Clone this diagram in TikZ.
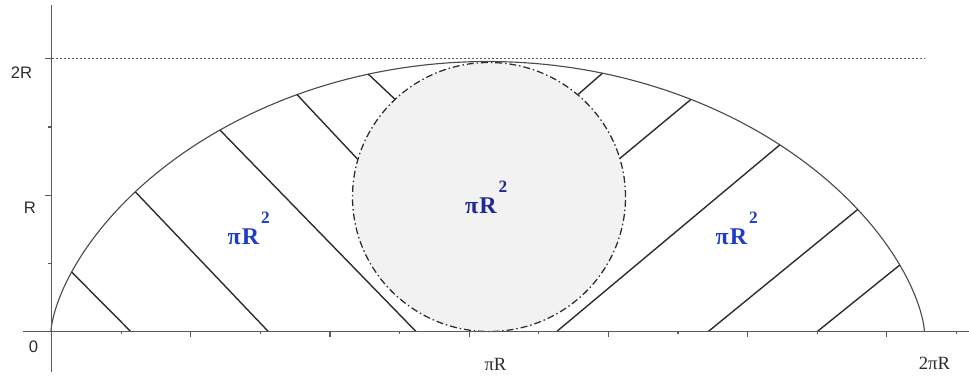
\documentclass[tikz,border=0pt]{standalone}
\usepackage{fontspec}
\setmainfont{Liberation Serif}
\newfontfamily\axsans{Liberation Sans}
\definecolor{labblue}{RGB}{30,60,200}
\definecolor{labnavy}{RGB}{30,40,150}
\definecolor{circfill}{RGB}{242,242,242}
\definecolor{inkgray}{RGB}{45,45,45}
\definecolor{axgray}{RGB}{90,90,90}
\tikzset{
  axisline/.style={draw=axgray, line width=1.2pt},
  tickline/.style={draw=axgray, line width=0.9pt},
  cycline/.style={draw=inkgray!85!white, line width=0.85pt},
  hatch/.style={draw=inkgray, line width=1.05pt},
  guide/.style={draw=axgray, line width=0.7pt, dash pattern=on 1.5pt off 1.5pt},
  rimline/.style={draw=inkgray, line width=0.95pt, dash pattern=on 5.2pt off 2.2pt on 1.1pt off 2.2pt},
  axlab/.style={font=\axsans\fontsize{12.5}{14}\selectfont, text=inkgray, inner sep=0pt},
  axser/.style={font=\fontsize{14}{16}\selectfont, text=inkgray, inner sep=0pt},
  arealab/.style={font=\bfseries\fontsize{18}{20}\selectfont, inner sep=0pt},
  areasup/.style={font=\bfseries\fontsize{13}{15}\selectfont, inner sep=0pt, anchor=south west}
}
\begin{document}
\begin{tikzpicture}[x=0.75pt, y=-0.75pt]
\useasboundingbox (0,0) rectangle (969,375);
% guide line at 2R
\coordinate (gA) at (51.5,58.5);
\coordinate (gB) at (925,58.5);
\draw[guide] (gA) -- (gB);
% cycloid
\draw[cycline] plot[domain=0:360, samples=181, variable=\t]
  ({51+139*(rad(\t)-sin(\t))},{331.5-135*(1-cos(\t))});
% points on the cycloid
\foreach \n/\t in {1/56,2/92,3/119.5,4/139,5/155,6/204,7/224,8/247.5,9/275.5,10/300.5}
  \coordinate (c\n) at ({51+139*(rad(\t)-sin(\t))},{331.5-135*(1-cos(\t))});
% inner ends
\coordinate (e1) at (130.7,331.5);
\coordinate (e2) at (268.3,331.5);
\coordinate (e3) at (416,331.5);
\coordinate (e4) at (357.7,159.3);
\coordinate (e5) at (395,99.3);
\coordinate (e6) at (578.3,94.3);
\coordinate (e7) at (620,158.3);
\coordinate (e8) at (556.7,331.5);
\coordinate (e9) at (708.3,331.5);
\coordinate (e10) at (817.3,331.5);
\foreach \n in {1,...,10} \draw[hatch] (c\n) -- (e\n);
% rolling circle
\coordinate (cc) at (489,197);
\fill[circfill] (cc) ellipse [x radius=102.375pt, y radius=100.875pt];
\draw[rimline] (cc) ellipse [x radius=102.375pt, y radius=100.875pt];
% axes
\coordinate (xA) at (23,331.5);
\coordinate (xB) at (969,331.5);
\coordinate (yA) at (51.5,5);
\coordinate (yB) at (51.5,372);
\draw[axisline] (xA) -- (xB);
\draw[axisline] (yA) -- (yB);
% ticks
\foreach \k in {1,...,13} {
  \pgfmathsetmacro\tx{51.5+69.6*\k}
  \pgfmathsetmacro\tl{isodd(\k) ? 2.5 : 5.5}
  \draw[tickline] (\tx,331.5) -- (\tx,331.5+\tl);
}
\foreach \k in {1,...,4} {
  \pgfmathsetmacro\ty{331.5-68.2*\k}
  \pgfmathsetmacro\tl{isodd(\k) ? 3.5 : 6.5}
  \draw[tickline] (51.5,\ty) -- (51.5-\tl,\ty);
}
% axis labels
\node[axlab] (l2R) at (21.5,73) {2R};
\node[axlab] (lR) at (30,207.5) {R};
\node[axlab] (l0) at (33.5,346.5) {0};
\node[axser] (lpiR) at (495.5,364) {πR};
\node[axser] (l2piR) at (934.5,363) {2πR};
% area labels
\node[arealab, text=labblue] (aL) at (243.5,237) {π\kern0.8ptR};
\node[areasup, text=labblue] (sL) at ([xshift=1pt,yshift=4pt]aL.north east) {2};
\node[arealab, text=labnavy] (aM) at (481,206) {π\kern0.8ptR};
\node[areasup, text=labnavy] (sM) at ([xshift=1pt,yshift=4pt]aM.north east) {2};
\node[arealab, text=labblue] (aR) at (731.5,237) {π\kern0.8ptR};
\node[areasup, text=labblue] (sR) at ([xshift=1pt,yshift=4pt]aR.north east) {2};
\end{tikzpicture}
\end{document}
